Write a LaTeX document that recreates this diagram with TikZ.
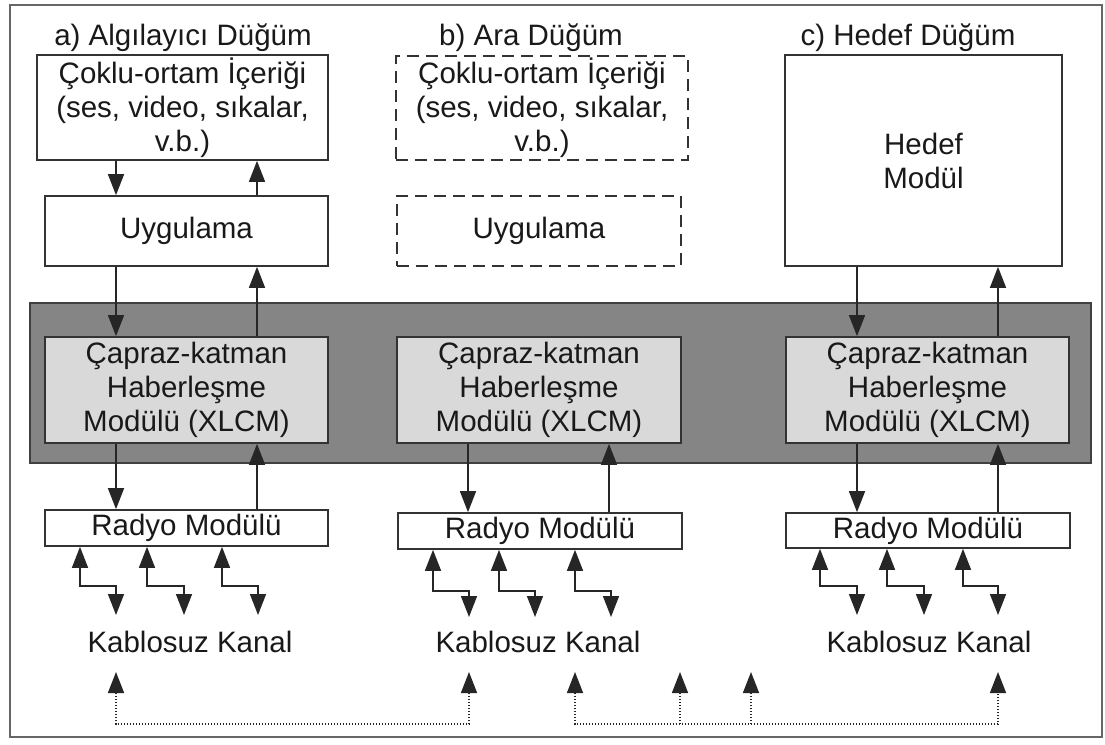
\documentclass[tikz,border=0pt]{standalone}
\usepackage{fontspec}
\setmainfont{Liberation Sans}
\usetikzlibrary{arrows.meta}
\begin{document}
\begin{tikzpicture}[x=1pt,y=-1pt,
  txt/.style={font=\fontsize{29.5}{34}\selectfont, text=black!90},
  box/.style={txt, draw=black!80, line width=1.7pt, fill=white, inner sep=0pt, align=center},
  dbox/.style={box, dash pattern=on 12pt off 7pt},
  xbox/.style={box, fill=black!15},
  band/.style={draw=black!75, line width=1.7pt, fill=black!48, inner sep=0pt},
  tip/.tip={Triangle[length=21pt,width=16pt]},
  arr/.style={line width=1.5pt, draw=black!85, -tip},
  zz/.style={line width=1.5pt, draw=black!85, tip-tip},
  dotl/.style={line width=1.5pt, draw=black!85, dash pattern=on 1.5pt off 1.5pt},
]
\useasboundingbox (0,0) rectangle (1105,744);
\fill[white] (0,0) rectangle (1105,744);
\draw[line width=2.5pt, draw=black!60] (10,5) rectangle (1102,737);

% titles
\node[txt, anchor=base] (ta) at (183,45) {a) Algılayıcı Düğüm};
\node[txt, anchor=base] (tb) at (531,45) {b) Ara Düğüm};
\node[txt, anchor=base] (tc) at (908,45) {c) Hedef Düğüm};

% band
\node[band, minimum width=1061pt, minimum height=160pt] (band) at (560.5,383) {};

% left column
\node[box, minimum width=291pt, minimum height=105pt] (c1) at (182.5,107.5) {Çoklu-ortam İçeriği\\(ses, video, sıkalar,\\v.b.)};
\node[box, minimum width=283pt, minimum height=70pt] (u1) at (186.5,231) {Uygulama};
\node[xbox, minimum width=283pt, minimum height=106pt] (x1) at (186.5,390) {Çapraz-katman\\Haberleşme\\Modülü (XLCM)};
\node[box, minimum width=283pt, minimum height=36pt] (r1) at (186.5,528) {Radyo Modülü};

% middle column
\node[dbox, minimum width=292pt, minimum height=104pt] (c2) at (542,108) {Çoklu-ortam İçeriği\\(ses, video, sıkalar,\\v.b.)};
\node[dbox, minimum width=284pt, minimum height=70pt] (u2) at (539,231) {Uygulama};
\node[xbox, minimum width=284pt, minimum height=106pt] (x2) at (539,390) {Çapraz-katman\\Haberleşme\\Modülü (XLCM)};
\node[box, minimum width=284pt, minimum height=36pt] (r2) at (540,531) {Radyo Modülü};

% right column
\node[box, minimum width=277pt, minimum height=211pt] (h3) at (923.5,160.5) {Hedef\\Modül};
\node[xbox, minimum width=283pt, minimum height=106pt] (x3) at (927.5,390) {Çapraz-katman\\Haberleşme\\Modülü (XLCM)};
\node[box, minimum width=284pt, minimum height=35pt] (r3) at (928,530.5) {Radyo Modülü};

% vertical arrows
\coordinate (xL1) at (116,0); \coordinate (xL2) at (257,0);
\coordinate (xM1) at (468,0); \coordinate (xM2) at (609,0);
\coordinate (xR1) at (857,0); \coordinate (xR2) at (998,0);

\draw[arr] (c1.south -| xL1) -- (u1.north -| xL1);
\draw[arr] (u1.north -| xL2) -- (c1.south -| xL2);
\draw[arr] (u1.south -| xL1) -- (x1.north -| xL1);
\draw[arr] (x1.north -| xL2) -- (u1.south -| xL2);
\draw[arr] (x1.south -| xL1) -- (r1.north -| xL1);
\draw[arr] (r1.north -| xL2) -- (x1.south -| xL2);

\draw[arr] (x2.south -| xM1) -- (r2.north -| xM1);
\draw[arr] (r2.north -| xM2) -- (x2.south -| xM2);

\draw[arr] (h3.south -| xR1) -- (x3.north -| xR1);
\draw[arr] (x3.north -| xR2) -- (h3.south -| xR2);
\draw[arr] (x3.south -| xR1) -- (r3.north -| xR1);
\draw[arr] (r3.north -| xR2) -- (x3.south -| xR2);

% zigzag links to wireless channel
\foreach \s/\e in {80/116,147/184,222/258}
  \draw[zz] (r1.south -| \s,0) -- ++(0,39) -| (\e,615);
\foreach \s/\e in {433/469,499/535,575/611}
  \draw[zz] (r2.south -| \s,0) -- ++(0,41) -| (\e,617);
\foreach \s/\e in {820/857,887/924,963/998}
  \draw[zz] (r3.south -| \s,0) -- ++(0,37) -| (\e,615);

% channel labels
\node[txt, anchor=base] (k1) at (190,652) {Kablosuz Kanal};
\node[txt, anchor=base] (k2) at (538,652) {Kablosuz Kanal};
\node[txt, anchor=base] (k3) at (929,652) {Kablosuz Kanal};

% dotted links
\coordinate (da) at (116,672); \coordinate (db) at (469,672);
\coordinate (dc) at (575,672); \coordinate (dd) at (680,672);
\coordinate (de) at (751,672); \coordinate (df) at (998,672);
\coordinate (base) at (0,724);
\draw[dotl, tip-tip] (da) -- (da |- base) -- (db |- base) -- (db);
\draw[dotl, tip-tip] (dc) -- (dc |- base) -- (df |- base) -- (df);
\draw[dotl, -tip] (dd |- base) -- (dd);
\draw[dotl, -tip] (de |- base) -- (de);
\end{tikzpicture}
\end{document}
